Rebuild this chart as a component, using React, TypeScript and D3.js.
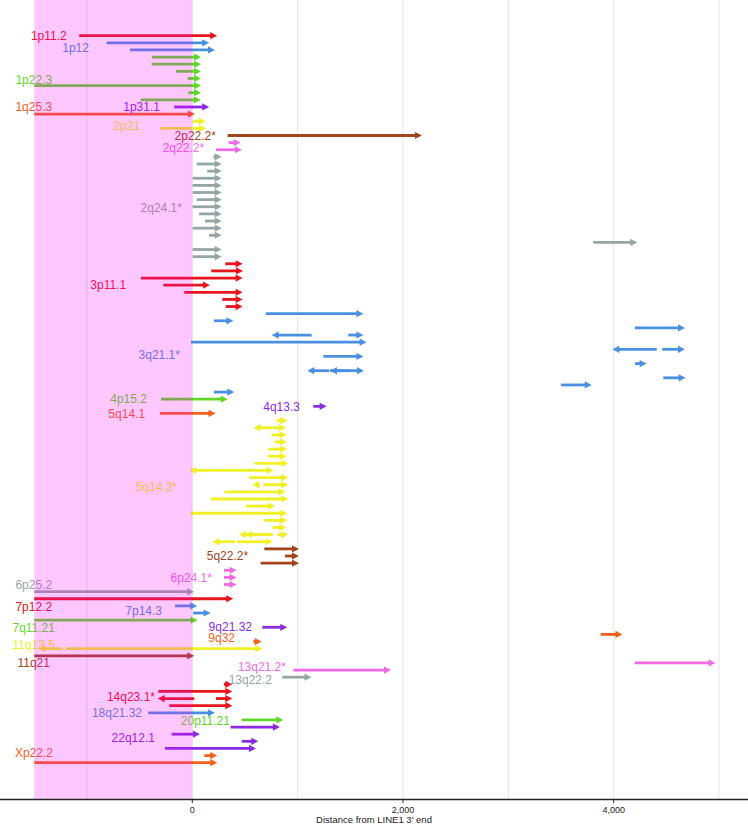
import React from "react";
import * as d3 from "d3";

const W = 748;
const H = 826;

// Palette cycled over chromosome bands (in order of appearance)
const palette = ["#e6161c", "#4a90e2", "#60d828", "#8a2be2", "#f75f1c", "#f0f024", "#a0451e", "#f06ae8", "#95a5a6"];

const bands = [
  "1p11.2", "1p12", "1p22.3", "1p31.1", "1q25.3", "2p21", "2p22.2*", "2q22.2*", "2q24.1*",
  "3p11.1", "3q21.1*", "4p15.2", "4q13.3", "5q14.1", "5q14.3*", "5q22.2*", "6p24.1*", "6p25.2",
  "7p12.2", "7p14.3", "7q11.21", "9q21.32", "9q32", "11q13.5", "11q21", "13q21.2*", "13q22.2",
  "14q23.1*", "18q21.32", "20p11.21", "22q12.1", "Xp22.2",
];

// Each row: band, then segments [tail, head] in bp relative to LINE1 3' end
const rows: [string, ...[number, number][]][] = [
  ["1p11.2", [-1073, 237]],
  ["1p12", [-813, 161]],
  ["1p12", [-591, 215]],
  ["1p22.3", [-382, 83]],
  ["1p22.3", [-386, 83]],
  ["1p22.3", [-155, 83]],
  ["1p22.3", [-44, 83]],
  ["1p22.3", [-1500, 83]],
  ["1p22.3", [-38, 83]],
  ["1p22.3", [-490, 80]],
  ["1p31.1", [-171, 161]],
  ["1q25.3", [-1500, 26]],
  ["2p21", [4, 130]],
  ["2p21", [-307, 130]],
  ["2p22.2*", [336, 2180]],
  ["2q22.2*", [345, 459]],
  ["2q22.2*", [225, 472]],
  ["2q24.1*", [200, 279]],
  ["2q24.1*", [42, 279]],
  ["2q24.1*", [142, 279]],
  ["2q24.1*", [4, 279]],
  ["2q24.1*", [4, 279]],
  ["2q24.1*", [4, 279]],
  ["2q24.1*", [42, 279]],
  ["2q24.1*", [4, 279]],
  ["2q24.1*", [64, 279]],
  ["2q24.1*", [121, 279]],
  ["2q24.1*", [4, 279]],
  ["2q24.1*", [159, 279]],
  ["2q24.1*", [3806, 4224]],
  ["2q24.1*", [4, 279]],
  ["2q24.1*", [4, 279]],
  ["3p11.1", [313, 478]],
  ["3p11.1", [180, 482]],
  ["3p11.1", [-487, 478]],
  ["3p11.1", [-275, 168]],
  ["3p11.1", [-76, 478]],
  ["3p11.1", [285, 478]],
  ["3p11.1", [317, 478]],
  ["3q21.1*", [697, 1624]],
  ["3q21.1*", [206, 390]],
  ["3q21.1*", [4202, 4677]],
  ["3q21.1*", [1133, 753], [1481, 1624]],
  ["3q21.1*", [-12, 1655]],
  ["3q21.1*", [4408, 3987], [4461, 4677]],
  ["3q21.1*", [1244, 1624]],
  ["3q21.1*", [4202, 4313]],
  ["3q21.1*", [1300, 1092], [1500, 1307], [1307, 1630]],
  ["3q21.1*", [4471, 4683]],
  ["3q21.1*", [3500, 3791]],
  ["3q21.1*", [206, 399]],
  ["4p15.2", [-297, 336]],
  ["4q13.3", [1149, 1276]],
  ["5q14.1", [-307, 222]],
  ["5q14.3*", [801, 902]],
  ["5q14.3*", [760, 580], [760, 890]],
  ["5q14.3*", [753, 896]],
  ["5q14.3*", [779, 896]],
  ["5q14.3*", [722, 902]],
  ["5q14.3*", [715, 896]],
  ["5q14.3*", [589, 911]],
  ["5q14.3*", [400, -28], [400, 769]],
  ["5q14.3*", [541, 911]],
  ["5q14.3*", [640, 570], [674, 911]],
  ["5q14.3*", [304, 886]],
  ["5q14.3*", [177, 911]],
  ["5q14.3*", [507, 785]],
  ["5q14.3*", [-15, 902]],
  ["5q14.3*", [684, 902]],
  ["5q14.3*", [760, 890]],
  ["5q14.3*", [763, 443], [763, 502], [810, 911]],
  ["5q14.3*", [407, 190], [427, 763]],
  ["5q22.2*", [684, 1013]],
  ["5q22.2*", [880, 1013]],
  ["5q22.2*", [649, 1013]],
  ["6p24.1*", [301, 421]],
  ["6p24.1*", [301, 421]],
  ["6p24.1*", [301, 421]],
  ["6p25.2", [-1500, 19]],
  ["7p12.2", [-1500, 389]],
  ["7p14.3", [-164, 47]],
  ["7p14.3", [9, 174]],
  ["7q11.21", [-1500, 51]],
  ["9q21.32", [665, 902]],
  ["9q32", [3877, 4083]],
  ["9q32", [580, 659]],
  ["11q13.5", [-1230, -1462], [-1199, 665]],
  ["11q21", [-1500, 19]],
  ["13q21.2*", [4199, 4967]],
  ["13q21.2*", [960, 1887]],
  ["13q22.2", [854, 1132]],
  ["14q23.1*", [300, 380]],
  ["14q23.1*", [-322, 380]],
  ["14q23.1*", [19, -329], [225, 380]],
  ["14q23.1*", [-218, 380]],
  ["18q21.32", [-418, 215]],
  ["20p11.21", [469, 864]],
  ["22q12.1", [364, 832]],
  ["22q12.1", [-196, 73]],
  ["22q12.1", [469, 627]],
  ["22q12.1", [-259, 605]],
  ["Xp22.2", [114, 237]],
  ["Xp22.2", [-1500, 237]],
];

// Label anchors: band, right end (bp), row position
const labelAnchors: [string, number, number][] = [
  ["1p11.2", -1192, 0], ["1p12", -981, 1.63], ["1p22.3", -1330, 6.2], ["1p31.1", -307, 10],
  ["1q25.3", -1330, 10], ["2p21", -496, 12.67], ["2p22.2*", 225, 14.1], ["2q22.2*", 112, 15.66],
  ["2q24.1*", -98, 24.1], ["3p11.1", -628, 35], ["3q21.1*", -117, 44.8], ["4p15.2", -430, 51],
  ["4q13.3", 1022, 52], ["5q14.1", -448, 53], ["5q14.3*", -145, 63.3], ["5q22.2*", 530, 73],
  ["6p24.1*", 187, 76], ["6p25.2", -1330, 77], ["7p12.2", -1330, 80.1], ["7p14.3", -287, 80.7],
  ["7q11.21", -1303, 83.1], ["9q21.32", 567, 83], ["9q32", 406, 84.5], ["11q13.5", -1303, 85.5],
  ["11q21", -1351, 88], ["13q21.2*", 889, 88.6], ["13q22.2", 757, 90.3], ["14q23.1*", -354, 92.7],
  ["18q21.32", -477, 95], ["20p11.21", 358, 96.1], ["22q12.1", -354, 98.5], ["Xp22.2", -1322, 100.6],
];

const xTicks = [0, 2000, 4000];
const gridValues = [-1000, 0, 1000, 2000, 3000, 4000, 5000];
const shadedRange = [-1500, 0];

export default function App() {
  const x = d3.scaleLinear().domain([-1825, 5275]).range([0, W]);
  const y = d3.scaleLinear().domain([0, rows.length - 1]).range([35.7, 762.7]);
  const color = d3.scaleOrdinal<string, string>().domain(bands).range(palette);
  const axisY = 799.5;
  const headLen = 7;
  const headHalf = 3.6;
  const fmt = d3.format(",");
  const font = "'Liberation Sans', Arial, Helvetica, sans-serif";

  const arrows: JSX.Element[] = [];
  rows.forEach((row, i) => {
    const band = row[0] as string;
    const segs = row.slice(1) as [number, number][];
    segs.forEach(([t, h], j) => {
      const x1 = x(t);
      const x2 = x(h);
      const dir = x2 >= x1 ? 1 : -1;
      const yy = y(i);
      const c = color(band);
      const lineEnd = x2 - dir * headLen * 0.7;
      arrows.push(
        <g key={`a${i}-${j}`}>
          <line x1={x1} x2={lineEnd} y1={yy} y2={yy} stroke={c} strokeWidth={2.8} />
          <path
            d={`M${x2},${yy}L${x2 - dir * headLen},${yy - headHalf}L${x2 - dir * headLen},${yy + headHalf}Z`}
            fill={c}
          />
        </g>
      );
    });
  });

  return (
    <div style={{ position: "absolute", left: 0, top: 0 }}>
      <svg width={W} height={H} style={{ display: "block", fontFamily: font }}>
        <rect x={0} y={0} width={W} height={H} fill="#ffffff" />
        {gridValues.map((g) => (
          <line key={`g${g}`} x1={x(g)} x2={x(g)} y1={0} y2={axisY} stroke="#e5e5e5" strokeWidth={1} />
        ))}
        {arrows}
        {labelAnchors.map(([name, lx, lr]) => (
          <text
            key={`l${name}`}
            x={x(lx)}
            y={y(lr)}
            dy="0.35em"
            textAnchor="end"
            fontSize={12}
            fill={color(name)}
          >
            {name}
          </text>
        ))}
        <rect
          x={x(shadedRange[0])}
          y={0}
          width={x(shadedRange[1]) - x(shadedRange[0])}
          height={axisY}
          fill="#ff00ff"
          opacity={0.22}
        />
        <line x1={0} x2={W} y1={axisY} y2={axisY} stroke="#222" strokeWidth={1.3} />
        {xTicks.map((t) => (
          <g key={`t${t}`} transform={`translate(${x(t)},${axisY})`}>
            <line y1={0} y2={3.5} stroke="#222" strokeWidth={1} />
            <text y={13.5} textAnchor="middle" fontSize={9} fill="#222">
              {fmt(t)}
            </text>
          </g>
        ))}
        <text x={W / 2} y={823} textAnchor="middle" fontSize={9.5} fill="#222">
          Distance from LINE1 3' end
        </text>
      </svg>
    </div>
  );
}
